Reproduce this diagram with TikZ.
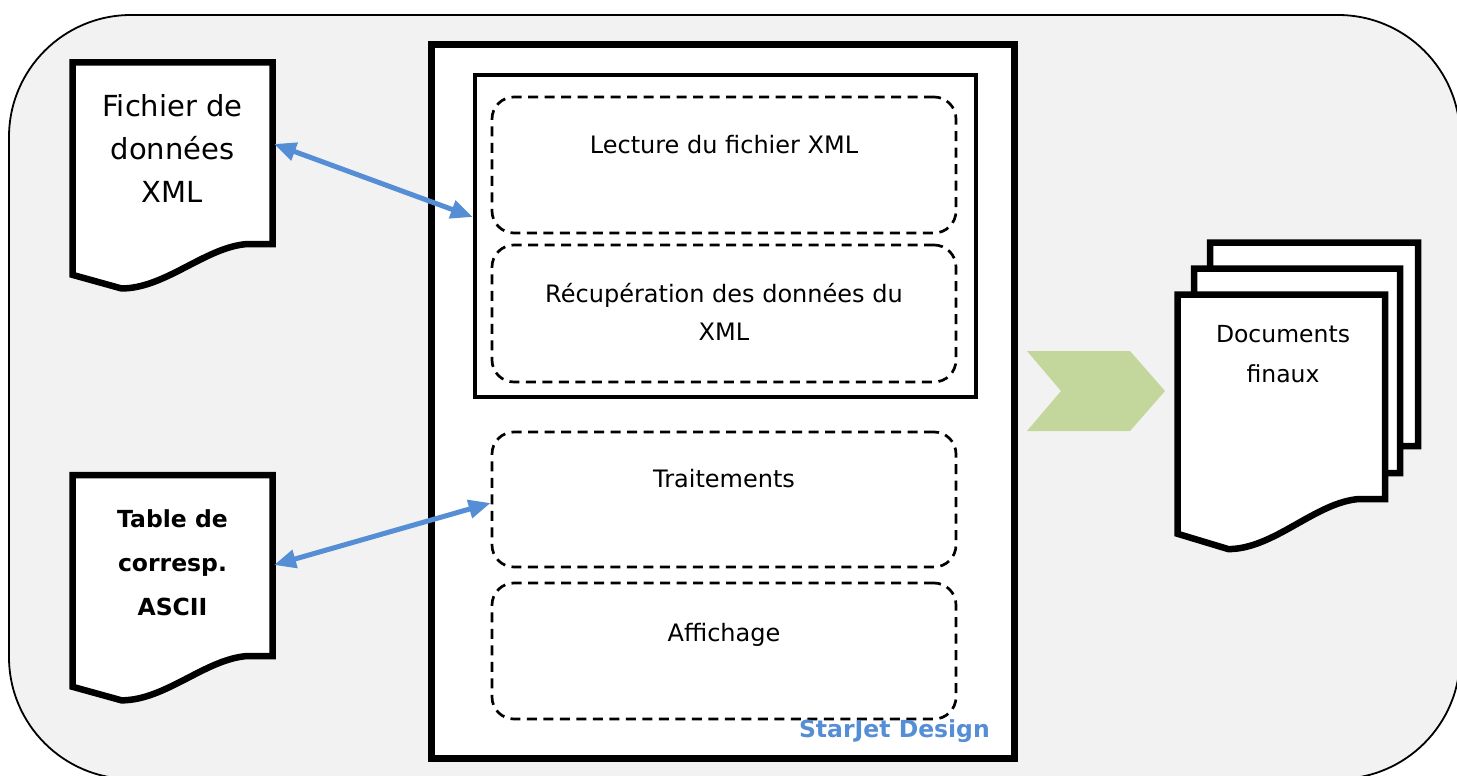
\documentclass[tikz,border=0pt]{standalone}
\usepackage{fontspec}
\setmainfont{DejaVu Sans}
\usetikzlibrary{arrows.meta}
\definecolor{panelgrey}{HTML}{F2F2F2}
\definecolor{linkblue}{HTML}{558ED5}
\definecolor{flowgreen}{HTML}{C3D69B}

% Document sheet with a wavy bottom edge:
% #1,#2 = top-left corner, #3 = width, #4 = height of the straight right edge
\newcommand\docsheet[4]{%
  \draw[docline] (#1,#2) -- ({#1+#3},#2) -- ({#1+#3},{#2+#4})
    -- ({#1+0.875*#3},{#2+#4})
    .. controls ({#1+0.665*#3},{#2+1.016*#4}) and ({#1+0.465*#3},{#2+1.245*#4})
    .. ({#1+0.245*#3},{#2+1.245*#4})
    -- (#1,{#2+1.17*#4}) -- cycle;}

\begin{document}
\begin{tikzpicture}[x=1pt,y=-1pt,
  docline/.style={draw=black,fill=white,line width=6.5pt,line join=miter},
  mainframe/.style={draw=black,fill=white,line width=7pt,rectangle,inner sep=0pt},
  subframe/.style={draw=black,fill=white,line width=4.5pt,rectangle,inner sep=0pt},
  dashbox/.style={draw=black,fill=white,line width=2.7pt,rectangle,rounded corners=22pt,
    dash pattern=on 10pt off 6.5pt,minimum width=464pt,inner sep=0pt},
  steptext/.style={font=\fontsize{24}{38}\selectfont,align=center,inner sep=0pt},
  link/.style={draw=linkblue,line width=5pt,{Triangle[length=22pt,width=18pt]}-{Triangle[length=22pt,width=18pt]}},
]
\useasboundingbox (0,0) rectangle (1457,776);

% background panel
\draw[fill=panelgrey,line width=1.8pt,rounded corners=122pt] (9,15) rectangle (1460,779);

% input documents
\docsheet{72.5}{62.5}{200}{181.5}
\node[font=\fontsize{29}{43}\selectfont,align=center,inner sep=0pt] (xmlfile) at (172.5,148) {Fichier de\\données\\XML};
\docsheet{72.5}{475}{200}{181}
\node[font=\bfseries\fontsize{23.5}{44}\selectfont,align=center,inner sep=0pt] (asciitable) at (172.5,563) {Table de\\corresp.\\ASCII};

% StarJet application frame
\node[mainframe,minimum width=582.5pt,minimum height=713pt] (starjet) at (722.75,401.5) {};
\node[subframe,minimum width=501pt,minimum height=322pt] (xmlstage) at (725.5,236) {};

\node[dashbox,minimum height=136pt] (readbox) at (724,165) {};
\node[dashbox,minimum height=137pt] (fetchbox) at (724,313.5) {};
\node[dashbox,minimum height=135pt] (processbox) at (724,499.5) {};
\node[dashbox,minimum height=136pt] (displaybox) at (724,651) {};

\node[steptext] (readtext) at (724,145) {Lecture du fichier XML};
\node[steptext] (fetchtext) at (724,311.5) {Récupération des données du\\XML};
\node[steptext] (processtext) at (724,479) {Traitements};
\node[steptext] (displaytext) at (724,634.8) {Affichage};

\node[font=\bfseries\fontsize{23.5}{28}\selectfont,text=linkblue,inner sep=0pt,anchor=east] (brand) at (990,731) {StarJet Design};

% output chevron
\path[fill=flowgreen] (1027,351) -- (1130,351) -- (1165,391) -- (1130,431) -- (1027,431) -- (1061,391) -- cycle;

% output document stack
\docsheet{1210}{242.5}{208}{203.5}
\docsheet{1194}{268.5}{206}{204.5}
\docsheet{1177.5}{294.5}{207.5}{204.5}
\node[font=\fontsize{23.5}{40}\selectfont,align=center,inner sep=0pt] (outdocs) at (1283,354.5) {Documents\\finaux};

% data links
\coordinate (xmlport) at (274,144);
\coordinate (asciiport) at (274,565);
\coordinate (stageport) at (xmlstage.west |- 0,217);
\coordinate (processport) at (processbox.west |- 0,503);
\draw[link] (xmlport) -- (stageport);
\draw[link] (asciiport) -- (processport);
\end{tikzpicture}
\end{document}
